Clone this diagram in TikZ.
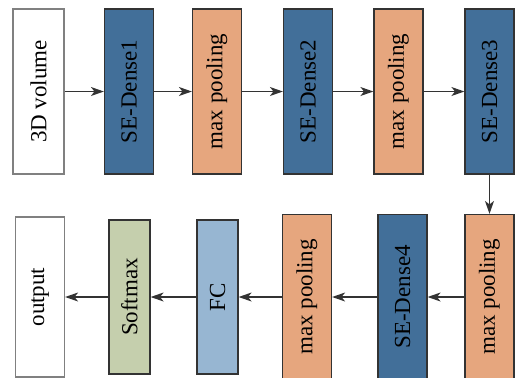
\documentclass[tikz,border=0pt]{standalone}
\usepackage{fontspec}
\setmainfont{Liberation Serif}
\usetikzlibrary{arrows.meta}
\definecolor{SEBlue}{HTML}{426F99}
\definecolor{PoolOrange}{HTML}{E6A67E}
\definecolor{SoftGreen}{HTML}{C5CFAD}
\definecolor{FCBlue}{HTML}{97B6D2}
\definecolor{EdgeGray}{HTML}{333333}

\begin{document}
\begin{tikzpicture}[
    x=0.5pt, y=-0.5pt,
    font=\fontsize{11.5}{13}\selectfont,
    layer/.style={draw=EdgeGray, line width=0.6pt, rotate=90, inner sep=0pt,
                  minimum width=82.5pt, minimum height=24.5pt},
    iobox/.style={layer, draw=black!50, fill=white},
    sedense/.style={layer, fill=SEBlue},
    pool/.style={layer, fill=PoolOrange},
    flow/.style={-{Stealth[length=6.5pt, width=4.5pt, inset=1.8pt]}, line width=0.7pt, EdgeGray},
]
\useasboundingbox (0,0) rectangle (516,377);

% ============ fila superior ============
\node[iobox, minimum height=25.5pt] (vol)  at (38.5,91.5) {3D volume};
\node[sedense] (sed1) at (129,91.5)   {SE-Dense1};
\node[pool]    (mp1)  at (217,91.5)   {max pooling};
\node[sedense] (sed2) at (308,91.5)   {SE-Dense2};
\node[pool]    (mp2)  at (398.5,91.5) {max pooling};
\node[sedense] (sed3) at (489.5,91.5) {SE-Dense3};

\draw[flow] (vol)  -- (sed1);
\draw[flow] (sed1) -- (mp1);
\draw[flow] (mp1)  -- (sed2);
\draw[flow] (sed2) -- (mp2);
\draw[flow] (mp2)  -- (sed3);

% ============ fila inferior ============
\node[pool]    (mp3)  at (489.5,297) {max pooling};
\node[sedense] (sed4) at (402.5,297) {SE-Dense4};
\node[pool]    (mp4)  at (307,297)   {max pooling};
\node[layer, fill=FCBlue, minimum width=77pt, minimum height=20.5pt] (fc) at (217.5,297) {FC};
\node[layer, fill=SoftGreen, minimum width=77pt, minimum height=20.5pt] (soft) at (129.5,297) {Softmax};
\node[iobox, minimum width=80pt] (out) at (40,297) {output};

\draw[flow] (sed3) -- (mp3);
\draw[flow] (mp3)  -- (sed4);
\draw[flow] (sed4) -- (mp4);
\draw[flow] (mp4)  -- (fc);
\draw[flow] (fc)   -- (soft);
\draw[flow] (soft) -- (out);

\end{tikzpicture}
\end{document}
